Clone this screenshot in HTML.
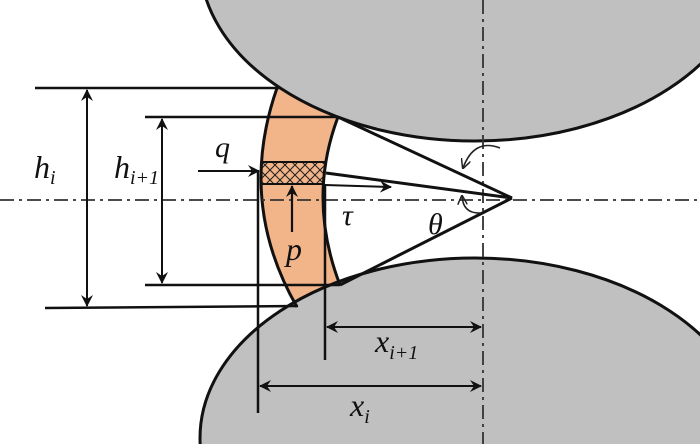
<!DOCTYPE html>
<html><head><meta charset="utf-8"><style>
html,body{margin:0;padding:0;background:#fff;width:700px;height:444px;overflow:hidden;}
svg{display:block;}
text{font-family:"Liberation Serif",serif;font-style:italic;fill:#111;}
</style></head><body>
<svg width="700" height="444" viewBox="0 0 700 444" xmlns="http://www.w3.org/2000/svg">
<defs>
<marker id="ah" viewBox="0 0 12 12" refX="11" refY="6" markerWidth="12" markerHeight="12" markerUnits="userSpaceOnUse" orient="auto-start-reverse">
<path d="M0,0 L12,6 L0,12 L4,6 Z" fill="#111"/>
</marker>
<marker id="as" viewBox="0 0 10 10" refX="9" refY="5" markerWidth="10" markerHeight="10" markerUnits="userSpaceOnUse" orient="auto">
<path d="M0,0 L10,5 L0,10" fill="none" stroke="#222" stroke-width="1.5"/>
</marker>
<pattern id="hatch" width="10" height="10" patternUnits="userSpaceOnUse">
<path d="M0,0 L10,10 M10,0 L0,10" stroke="#222" stroke-width="1.1"/>
</pattern>
<clipPath id="hc"><path d="M262,162 L327,162 L324,184 L261,184 Z"/></clipPath>
<clipPath id="frame"><rect x="0" y="0" width="700" height="444"/></clipPath>
</defs>
<g clip-path="url(#frame)">
<path d="M277,88 Q237,202.5 297,307 L300,330 L345,330 L340,285 Q307,199 338,117 L335,70 L270,70 Z" fill="#f2b58a"/>
<rect x="255" y="160" width="75" height="26" fill="url(#hatch)" clip-path="url(#hc)"/>
<line x1="262" y1="162" x2="327" y2="162" stroke="#111" stroke-width="2"/>
<line x1="261" y1="184" x2="325" y2="184" stroke="#111" stroke-width="2"/>
<ellipse cx="475" cy="-39" rx="275" ry="180" fill="#c0c0c0" stroke="#111" stroke-width="3"/>
<ellipse cx="475" cy="438" rx="275" ry="180" fill="#c0c0c0" stroke="#111" stroke-width="3"/>
<path d="M277,88 Q237,202.5 297,307" fill="none" stroke="#111" stroke-width="3"/>
<path d="M338,117 Q307,199 340,285" fill="none" stroke="#111" stroke-width="3"/>
<line x1="0" y1="200" x2="700" y2="200" stroke="#333" stroke-width="1.8" stroke-dasharray="14,5,3,5"/>
<line x1="483" y1="0" x2="483" y2="444" stroke="#333" stroke-width="1.8" stroke-dasharray="14,5,3,5"/>
<line x1="35" y1="88" x2="279" y2="88" stroke="#111" stroke-width="2.5"/>
<line x1="45" y1="308" x2="298" y2="306" stroke="#111" stroke-width="2.5"/>
<line x1="145" y1="117" x2="338" y2="117" stroke="#111" stroke-width="2.5"/>
<line x1="145" y1="285" x2="340" y2="285" stroke="#111" stroke-width="2.5"/>
<line x1="87" y1="90" x2="87" y2="306" stroke="#111" stroke-width="2" marker-start="url(#ah)" marker-end="url(#ah)"/>
<line x1="162" y1="119" x2="162" y2="283" stroke="#111" stroke-width="2" marker-start="url(#ah)" marker-end="url(#ah)"/>
<line x1="338" y1="117" x2="512" y2="198" stroke="#111" stroke-width="3"/>
<line x1="340" y1="285" x2="512" y2="198" stroke="#111" stroke-width="3"/>
<line x1="326" y1="173" x2="512" y2="198" stroke="#111" stroke-width="3"/>
<line x1="198" y1="171" x2="259" y2="171" stroke="#111" stroke-width="2" marker-end="url(#ah)"/>
<line x1="325" y1="185" x2="391" y2="187" stroke="#111" stroke-width="2" marker-end="url(#ah)"/>
<line x1="292" y1="232" x2="292" y2="186" stroke="#111" stroke-width="2.2" marker-end="url(#ah)"/>
<line x1="258" y1="170" x2="258" y2="413" stroke="#111" stroke-width="2.5"/>
<line x1="325" y1="184" x2="325" y2="360" stroke="#111" stroke-width="2.5"/>
<line x1="327" y1="327" x2="481" y2="327" stroke="#111" stroke-width="2" marker-start="url(#ah)" marker-end="url(#ah)"/>
<line x1="260" y1="386" x2="481" y2="386" stroke="#111" stroke-width="2" marker-start="url(#ah)" marker-end="url(#ah)"/>
<path d="M500,148 Q474,138 463,168" fill="none" stroke="#222" stroke-width="1.6" marker-end="url(#as)"/>
<path d="M481,213 Q463,214 462,196" fill="none" stroke="#222" stroke-width="1.6" marker-end="url(#as)"/>
<text x="34" y="178" font-size="32">h<tspan font-size="20" dy="6">i</tspan></text>
<text x="114" y="178" font-size="32">h<tspan font-size="20" dy="6">i+1</tspan></text>
<text x="215" y="157" font-size="30">q</text>
<text x="342" y="225" font-size="30">τ</text>
<text x="286" y="260" font-size="32">p</text>
<text x="428" y="234" font-size="30">θ</text>
<text x="375" y="352" font-size="32">x<tspan font-size="20" dy="7">i+1</tspan></text>
<text x="350" y="416" font-size="32">x<tspan font-size="20" dy="7">i</tspan></text>
</g>
</svg>
</body></html>
